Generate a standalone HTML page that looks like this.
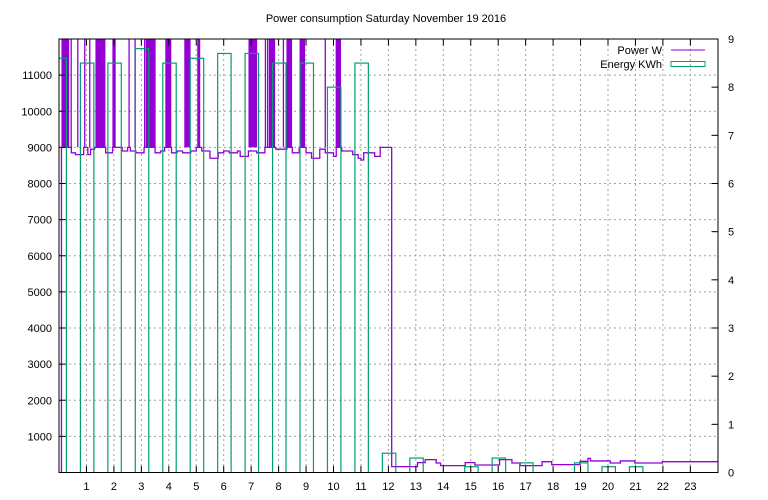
<!DOCTYPE html>
<html><head><meta charset="utf-8"><style>
html,body{margin:0;padding:0;background:#fff}
svg{display:block}
text{font-family:"Liberation Sans",sans-serif;font-size:11px;fill:#000}
</style></head><body>
<svg id="chart" width="768" height="500" xmlns="http://www.w3.org/2000/svg">
<defs><clipPath id="pc"><rect x="59" y="39" width="659" height="433.5"/></clipPath></defs>
<text x="386" y="22" text-anchor="middle">Power consumption Saturday November 19 2016</text>
<g id="grid"></g>
<g id="plot" clip-path="url(#pc)"></g>
<rect x="59" y="39" width="659" height="433.5" fill="none" stroke="#000" stroke-width="1"/>
<g id="axes"></g>
<g>
<text x="662" y="54" text-anchor="end">Power W</text>
<line x1="671" y1="50" x2="705" y2="50" stroke="#9400d3" stroke-width="1"/>
<text x="662" y="68" text-anchor="end">Energy KWh</text>
<rect x="671" y="61.5" width="34" height="5" fill="none" stroke="#009e73" stroke-width="1"/>
</g>
</svg>
<script>
const xTicks=[1,2,3,4,5,6,7,8,9,10,11,12,13,14,15,16,17,18,19,20,21,22,23];
const yTicks=[1000,2000,3000,4000,5000,6000,7000,8000,9000,10000,11000];
const y2Ticks=[0,1,2,3,4,5,6,7,8,9];
const energyHours=[0,1,2,3,4,5,6,7,8,9,10,11,12,13,15,16,17,19,20,21];
const energyKWh=[8.6,8.5,8.5,8.8,8.5,8.6,8.7,8.7,8.5,8.5,8.0,8.5,0.4,0.3,0.12,0.3,0.2,0.2,0.12,0.12];
// power baseline steps: [hour, watts]
const powerHours=[0,0.09,0.45,0.6,0.9,1.05,1.15,1.3,1.7,1.95,2.3,2.5,2.6,2.8,3.0,3.1,3.5,3.7,3.85,4.1,4.3,4.5,4.8,5.0,5.2,5.5,5.8,6.0,6.2,6.5,6.6,6.9,7.2,7.5,7.9,8.3,8.5,8.75,9.0,9.2,9.5,9.7,10.0,10.1,10.3,10.7,10.9,11.0,11.1,11.5,11.7,12.12,13.06,13.34,13.74,13.9,14.8,15.15,16.05,16.5,16.8,17.6,17.95,18.98,19.27,19.36,20.08,20.45,20.98,21.98,24];
const powerWatts=[0,9000,8850,8800,9000,8800,8950,9000,8850,9000,8900,9000,8900,8850,8850,9000,8850,8900,9000,8850,8900,8850,8900,9000,8900,8700,8850,8900,8850,8900,8750,8900,8850,9000,8950,9000,8850,9000,8850,8700,8950,8850,8750,9000,8900,8800,8700,8650,8850,8750,9000,163,273,356,263,190,273,207,356,263,190,300,218,310,390,320,263,320,263,300,300];
const spikeStart=[0.444,0.938,2.553,3.12,7.52,8.175,9.7];
const spikeEnd=[0.684,1.12,2.771,3.182,7.6,8.309,10.102];
const bandStart=[0.09,1.327,1.945,3.182,3.873,4.564,5.036,6.902,7.644,8.309,8.764,10.102];
const bandEnd=[0.371,1.691,2.065,3.52,4.091,4.793,5.145,7.218,7.873,8.491,8.964,10.273];

const NS="http://www.w3.org/2000/svg";
const X=h=>59+h*27.45;
const Y=w=>472.5-w*(433.5/12000);
const Y2=k=>472.5-k*(433.5/9);
function mk(tag,attrs,parent){const e=document.createElementNS(NS,tag);for(const k in attrs)e.setAttribute(k,attrs[k]);parent.appendChild(e);return e;}
const grid=document.getElementById('grid'),plot=document.getElementById('plot'),axes=document.getElementById('axes');
xTicks.forEach(t=>{
  const l=mk('line',{x1:X(t),y1:39,x2:X(t),y2:472.5,stroke:'#a0a0a0','stroke-dasharray':'2,3'},grid);
  
  
  const a=mk('line',{x1:X(t),y1:472.5,x2:X(t),y2:466,stroke:'#000'},axes);
  
  
  const b=mk('line',{x1:X(t),y1:39,x2:X(t),y2:45.5,stroke:'#000'},axes);
  
  
  const tx=mk('text',{x:X(t),y:490,'text-anchor':'middle'},axes);tx.textContent=t;
  
  
});
yTicks.forEach(t=>{
  const l=mk('line',{x1:59,y1:Y(t),x2:718,y2:Y(t),stroke:'#a0a0a0','stroke-dasharray':'2,3'},grid);
  
  
  const a=mk('line',{x1:59,y1:Y(t),x2:65.5,y2:Y(t),stroke:'#000'},axes);
  
  
  const tx=mk('text',{x:52,y:Y(t)+4,'text-anchor':'end'},axes);tx.textContent=t;
  
  
});
y2Ticks.forEach(t=>{
  const a=mk('line',{x1:718,y1:Y2(t),x2:711.5,y2:Y2(t),stroke:'#000'},axes);
  
  
  const tx=mk('text',{x:728,y:Y2(t)+4,'text-anchor':'start'},axes);tx.textContent=t;
  
  
});
// power baseline step line
let d='';
powerHours.forEach((h,i)=>{const y=Y(powerWatts[i]);if(i===0)d+='M'+X(h)+','+y;else d+=' H'+X(h)+' V'+y;});
const pl=mk('path',{d:d,fill:'none',stroke:'#9400d3','stroke-width':1.3},plot);


spikeStart.forEach((s,i)=>{
  const p=mk('path',{d:'M'+X(s)+','+Y(9000)+' V'+Y(13000)+' M'+X(spikeEnd[i])+','+Y(13000)+' V'+Y(9000),fill:'none',stroke:'#9400d3','stroke-width':1.3},plot);
  
  
});
bandStart.forEach((s,i)=>{
  const r=mk('rect',{x:X(s),y:Y(13000),width:X(bandEnd[i])-X(s),height:Y(9000)-Y(13000),fill:'#9400d3'},plot);
  
  
});
energyHours.forEach((h,i)=>{
  const r=mk('rect',{x:X(h-0.22),y:Y2(energyKWh[i]),width:X(h+0.27)-X(h-0.22),height:Y2(0)-Y2(energyKWh[i])+2,fill:'none',stroke:'#009e73','stroke-width':1.2},plot);
  
  
});
</script>
</body></html>
